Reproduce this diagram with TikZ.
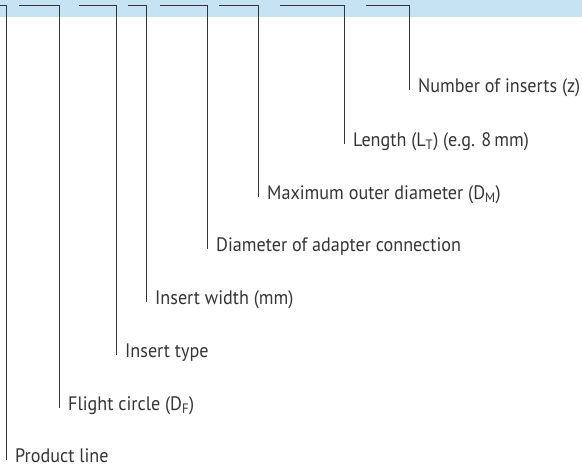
\documentclass[tikz,border=0pt]{standalone}
\usepackage{fontspec}
\setmainfont{PT Sans}[FakeStretch=0.93]
\usepackage{xcolor}
\usepackage{tikz}
\usetikzlibrary{positioning, calc}

\definecolor{bandblue}{HTML}{C6E3F4}
\definecolor{inkgray}{HTML}{353535}

\begin{document}
\begin{tikzpicture}[%
  x=1pt, y=-1pt,
  every node/.style={font=\fontsize{19.5}{23}\selectfont, text=inkgray},
  lbl/.style={anchor=base west, inner sep=0pt, text depth=0pt},
  lead/.style={draw=inkgray, line width=0.9pt}
]
\useasboundingbox (0,0) rectangle (582,466);

% Blue band
\fill[bandblue] (0,0) rectangle (582,16.5);

% Start points on the band
\coordinate (s1) at (0,5);
\coordinate (s2) at (19,5);
\coordinate (s3) at (79,5);
\coordinate (s4) at (128,5);
\coordinate (s5) at (160,5);
\coordinate (s6) at (219,5);
\coordinate (s7) at (280,5);
\coordinate (s8) at (366,5);

% Labels
\node[lbl] (l1) at (15,462.5) {Product line};
\node[lbl] (l2) at (68,410) {Flight circle (D\textsubscript{F})};
\node[lbl] (l3) at (125,357.5) {Insert type};
\node[lbl] (l4) at (155,304.5) {Insert width (mm)};
\node[lbl] (l5) at (216,251.5) {Diameter of adapter connection};
\node[lbl] (l6) at (267,199) {Maximum outer diameter (D\textsubscript{M})};
\node[lbl] (l7) at (353,146) {Length (L\textsubscript{T}) (e.g. 8\,mm)};
\node[lbl] (l8) at (418,92.5) {Number of inserts (z)};

% Leader lines
\draw[lead] (s1) -| ($(l1.base west)+(-9,-2.5)$);
\draw[lead] (s2) -| ($(l2.base west)+(-9,-2.5)$);
\draw[lead] (s3) -| ($(l3.base west)+(-9,-2.5)$);
\draw[lead] (s4) -| ($(l4.base west)+(-9,-2.5)$);
\draw[lead] (s5) -| ($(l5.base west)+(-9,-2.5)$);
\draw[lead] (s6) -| ($(l6.base west)+(-9,-2.5)$);
\draw[lead] (s7) -| ($(l7.base west)+(-9,-2.5)$);
\draw[lead] (s8) -| ($(l8.base west)+(-9,-2.5)$);

\end{tikzpicture}
\end{document}
